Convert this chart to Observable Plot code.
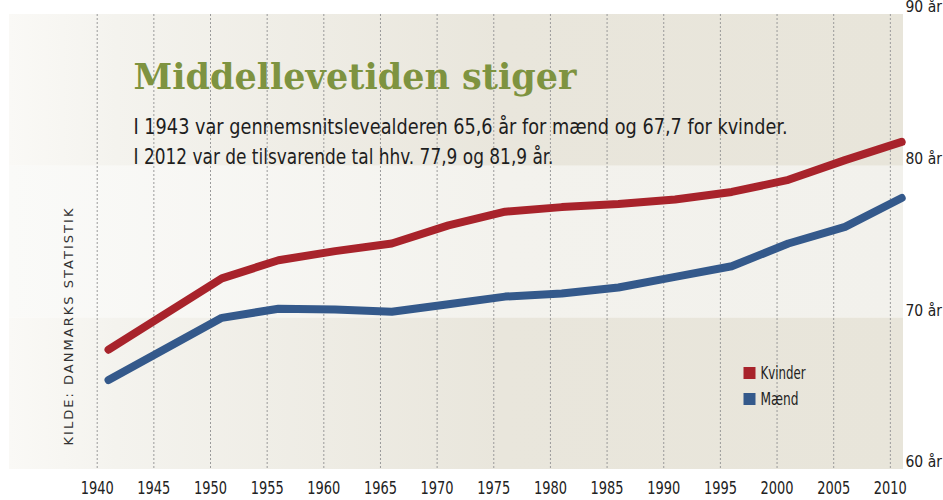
<!DOCTYPE html>
<html>
<head>
<meta charset="utf-8">
<script src="https://cdn.jsdelivr.net/npm/d3@7"></script>
<script src="https://cdn.jsdelivr.net/npm/@observablehq/plot@0.6"></script>
<style>
  html, body { margin: 0; padding: 0; background: #fff; }
  #chart { width: 943px; height: 500px; }
</style>
</head>
<body>
<div id="chart"></div>
<script>
// ---- data ----
const years   = [1941, 1951, 1956, 1961, 1966, 1971, 1976, 1981, 1986, 1991, 1996, 2001, 2006, 2011];
const kvinder = [67.9, 72.6, 73.8, 74.4, 74.9, 76.1, 77.0, 77.3, 77.5, 77.8, 78.3, 79.1, 80.4, 81.6];
const maend   = [65.9, 70.0, 70.6, 70.55, 70.4, 70.9, 71.4, 71.6, 72.0, 72.7, 73.4, 74.9, 76.0, 77.9];
const seriesNames  = ["Kvinder", "Mænd"];
const seriesColors = ["#a8232b", "#34598b"];
const xTicks = [1940, 1945, 1950, 1955, 1960, 1965, 1970, 1975, 1980, 1985, 1990, 1995, 2000, 2005, 2010];
const yTicks = [60, 70, 80, 90];
const bandLow  = [60, 70, 80];
const bandHigh = [70, 80, 90];
const bandFill = ["url(#gBeige)", "url(#gLight)", "url(#gBeige)"];
const titleText = "Middellevetiden stiger";
const subLines = [
  "I 1943 var gennemsnitslevealderen 65,6 år for mænd og 67,7 for kvinder.",
  "I 2012 var de tilsvarende tal hhv. 77,9 og 81,9 år."
];
const sourceText = "KILDE: DANMARKS STATISTIK";

const xDomain = [1932.26, 2011.16];
const yDomain = [60, 90];

const lineData = [];
years.forEach((yr, i) => {
  lineData.push({year: yr, value: kvinder[i], serie: seriesNames[0]});
});
years.forEach((yr, i) => {
  lineData.push({year: yr, value: maend[i], serie: seriesNames[1]});
});
const bands = bandLow.map((lo, i) => ({lo, hi: bandHigh[i], fill: bandFill[i]}));

const condensed = "'Liberation Sans Narrow', 'DejaVu Sans Condensed', sans-serif";

const legendMarks = [];
seriesNames.forEach((name, i) => {
  legendMarks.push(Plot.dot([name], {frameAnchor: "top-left", dx: 740, dy: 358.5 + i * 26,
    symbol: "square", r: 6.77, fill: seriesColors[i], stroke: "none"}));
  legendMarks.push(Plot.text([name], {frameAnchor: "top-left", dx: 751, dy: 358.5 + i * 26,
    text: d => d, textAnchor: "start", lineAnchor: "middle", fontSize: 18, fill: "#222",
    fontFamily: condensed}));
});

const chart = Plot.plot({
  width: 943,
  height: 500,
  marginLeft: 9,
  marginRight: 40,
  marginTop: 14,
  marginBottom: 31,
  style: {fontFamily: condensed, fontSize: "18px", color: "#222", background: "#fff", overflow: "visible"},
  x: {domain: xDomain, label: null},
  y: {domain: yDomain, label: null},
  color: {domain: seriesNames, range: seriesColors},
  marks: [
    Plot.rect(bands, {x1: () => xDomain[0], x2: () => xDomain[1], y1: "lo", y2: "hi", fill: "fill"}),
    Plot.ruleX(xTicks, {stroke: "#9a9a9a", strokeWidth: 1, strokeDasharray: "2,2"}),
    Plot.axisX(xTicks, {tickSize: 0, tickPadding: 12, fontSize: 18, tickFormat: d => String(d)}),
    Plot.axisY(yTicks, {anchor: "right", tickSize: 0, tickPadding: 2, dy: -7, textAnchor: "start",
      fontSize: 15.5, tickFormat: d => d + " år"}),
    Plot.text([titleText], {frameAnchor: "top-left", dx: 124, dy: 74, text: d => d, textAnchor: "start",
      lineAnchor: "bottom", fontSize: 35, fontWeight: "bold", fill: "#7e9340",
      fontFamily: "'DejaVu Serif', serif"}),
    Plot.text([subLines[0]], {frameAnchor: "top-left", dx: 124, dy: 119, text: d => d, textAnchor: "start",
      lineAnchor: "bottom", fontSize: 22, fill: "#1e1e1e", fontFamily: condensed}),
    Plot.text([subLines[1]], {frameAnchor: "top-left", dx: 124, dy: 149, text: d => d, textAnchor: "start",
      lineAnchor: "bottom", fontSize: 22, fill: "#1e1e1e", fontFamily: condensed}),
    Plot.text([sourceText], {frameAnchor: "bottom-left", dx: 59, dy: -24, rotate: -90, text: d => d,
      textAnchor: "start", lineAnchor: "middle", fontSize: 13, fill: "#333",
      fontFamily: "'DejaVu Sans', sans-serif"}),
    Plot.line(lineData, {x: "year", y: "value", stroke: "serie", z: "serie", strokeWidth: 8,
      strokeLinecap: "round", strokeLinejoin: "round"}),
    ...legendMarks
  ]
});

// gradient definitions for the background bands
const svg = d3.select(chart);
const defs = svg.insert("defs", ":first-child");
const g1 = defs.append("linearGradient").attr("id", "gBeige").attr("x1", "0").attr("x2", "1").attr("y1", "0").attr("y2", "0");
g1.append("stop").attr("offset", "0").attr("stop-color", "#faf9f6");
g1.append("stop").attr("offset", "0.12").attr("stop-color", "#f4f3ee");
g1.append("stop").attr("offset", "0.55").attr("stop-color", "#e9e6dc");
g1.append("stop").attr("offset", "1").attr("stop-color", "#e8e5da");
const g2 = defs.append("linearGradient").attr("id", "gLight").attr("x1", "0").attr("x2", "1").attr("y1", "0").attr("y2", "0");
g2.append("stop").attr("offset", "0").attr("stop-color", "#fafaf8");
g2.append("stop").attr("offset", "0.55").attr("stop-color", "#f3f2ed");
g2.append("stop").attr("offset", "1").attr("stop-color", "#f2f1ec");

// condense texts to the reference's narrow face
function squeeze(selection, width) {
  selection.attr("textLength", width).attr("lengthAdjust", "spacingAndGlyphs");
}
svg.selectAll("text").each(function() {
  const t = this.textContent;
  const s = d3.select(this);
  if (t === sourceText) s.attr("textLength", 237);
  else if (t === subLines[0]) squeeze(s, 654);
  else if (t === subLines[1]) squeeze(s, 420);
  else if (t === "Kvinder") squeeze(s, 45);
  else if (t === "Mænd") squeeze(s, 38);
  else if (/^\d{4}$/.test(t)) squeeze(s, 33);
});

document.getElementById("chart").appendChild(chart);
</script>
</body>
</html>
